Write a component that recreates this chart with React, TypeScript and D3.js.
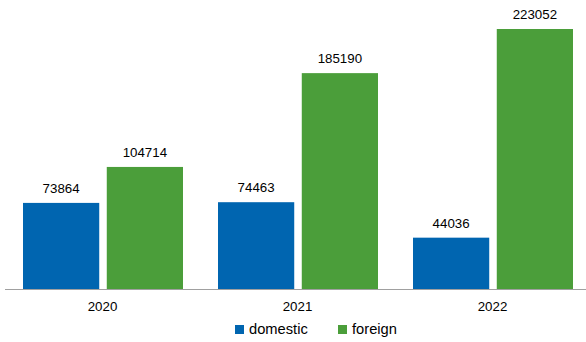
import React from "react";
import * as d3 from "d3";

const categories = ["2020", "2021", "2022"];
const seriesNames = ["domestic", "foreign"];
const domestic = [73864, 74463, 44036];
const foreign = [104714, 185190, 223052];

const W = 586;
const H = 342;
const colors = ["#0065b0", "#4b9e3a"];

export default function App() {
  const x = d3.scaleBand<string>().domain(categories).range([5.5, 590.5]).paddingInner(0).paddingOuter(0);
  const inner = d3.scaleBand<string>().domain(seriesNames).range([17.5, 177.5]).paddingInner(0.09);
  const baseY = 289;
  const y = d3.scaleLinear().domain([0, 223052]).range([baseY, 29]);
  const values = [domestic, foreign];
  const font = "'Liberation Sans', Arial, sans-serif";

  return (
    <svg width={W} height={H} style={{ position: "absolute", left: 0, top: 0 }}>
      {categories.map((c, i) =>
        seriesNames.map((s, j) => {
          const v = values[j][i];
          const bx = (x(c) as number) + (inner(s) as number);
          const bw = inner.bandwidth();
          return (
            <g key={c + s}>
              <rect x={bx} y={y(v)} width={bw} height={baseY - y(v)} fill={colors[j]} />
              <text x={bx + bw / 2} y={y(v) - 10} textAnchor="middle" fontFamily={font} fontSize={13.3} fill="#000">
                {v}
              </text>
            </g>
          );
        })
      )}
      <line x1={5} x2={586} y1={baseY + 0.5} y2={baseY + 0.5} stroke="#a0a0a0" strokeWidth={1} />
      {categories.map((c) => (
        <text key={c} x={(x(c) as number) + x.bandwidth() / 2 - 0.5} y={311} textAnchor="middle" fontFamily={font} fontSize={13.3} fill="#000">
          {c}
        </text>
      ))}
      <g>
        <rect x={235} y={325} width={9} height={9} fill={colors[0]} />
        <text x={249} y={334} fontFamily={font} fontSize={14.7} fill="#000">domestic</text>
        <rect x={338} y={325} width={9} height={9} fill={colors[1]} />
        <text x={352} y={334} fontFamily={font} fontSize={14.7} fill="#000">foreign</text>
      </g>
    </svg>
  );
}
